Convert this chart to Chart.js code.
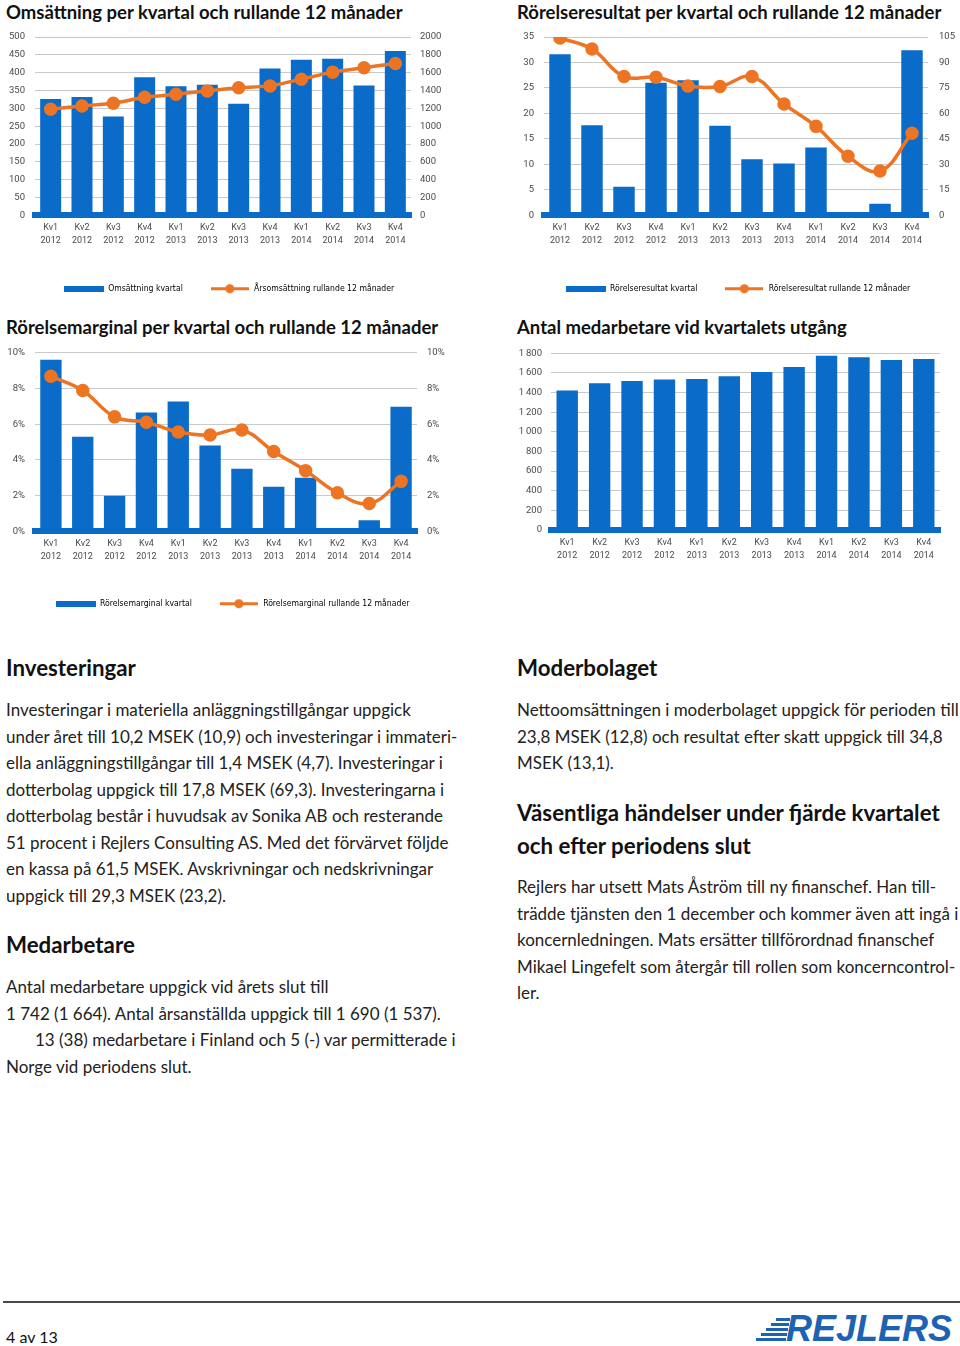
<!DOCTYPE html>
<html lang="sv">
<head>
<meta charset="utf-8">
<script src="https://cdn.jsdelivr.net/npm/chart.js@4.4.1/dist/chart.umd.min.js"></script>
<style>
  body { margin: 0; width: 960px; height: 1346px; position: relative; background: #fff; color: #1c1c1c; font-family: Lato, "Open Sans", sans-serif; overflow: hidden; }
  canvas { position: absolute; }
  .ct { position: absolute; font-weight: 700; font-size: 18px; line-height: 22px; white-space: nowrap; color: #111; }
  .hd { position: absolute; font-weight: 700; font-size: 20px; line-height: 33px; white-space: nowrap; color: #111; }
  .tx { position: absolute; font-size: 16px; line-height: 26.5px; color: #222; }
  .tx div, .hd div { white-space: nowrap; width: max-content; }
  .foot { position: absolute; left: 3px; top: 1301px; width: 957px; height: 2px; background: #4a4a4a; }
  .page { position: absolute; left: 6px; top: 1325px; font-size: 16px; line-height: 24px; color: #111; }
  .logo { position: absolute; left: 786px; top: 1309px; font-family: "Liberation Sans", Arial, sans-serif; font-style: italic; font-weight: 700; font-size: 36px; line-height: 40px; color: #1d63b3; }
  .stripe { position: absolute; height: 3px; background: #1d63b3; }
</style>
</head>
<body>

<div class="ct" id="t1" style="left:6px;top:1px">Omsättning per kvartal och rullande 12 månader</div>
<div class="ct" style="left:517px;top:1px">Rörelseresultat per kvartal och rullande 12 månader</div>
<div class="ct" style="left:6px;top:316px">Rörelsemarginal per kvartal och rullande 12 månader</div>
<div class="ct" style="left:517px;top:316px">Antal medarbetare vid kvartalets utgång</div>

<canvas id="c1" width="458" height="277" style="left:0;top:26px"></canvas>
<canvas id="c2" width="444" height="277" style="left:516px;top:26px"></canvas>
<canvas id="c3" width="465" height="278" style="left:0;top:340px"></canvas>
<canvas id="c4" width="470" height="230" style="left:480px;top:340px"></canvas>

<div class="hd" style="left:6px;top:651px"><div>Investeringar</div></div>
<div class="tx" style="left:6px;top:697px">
  <div id="b1">Investeringar i materiella anläggningstillgångar uppgick</div>
  <div>under året till 10,2 MSEK (10,9) och investeringar i immateri-</div>
  <div>ella anläggningstillgångar till 1,4 MSEK (4,7). Investeringar i</div>
  <div>dotterbolag uppgick till 17,8 MSEK (69,3). Investeringarna i</div>
  <div>dotterbolag består i huvudsak av Sonika AB och resterande</div>
  <div>51 procent i Rejlers Consulting AS. Med det förvärvet följde</div>
  <div>en kassa på 61,5 MSEK. Avskrivningar och nedskrivningar</div>
  <div>uppgick till 29,3 MSEK (23,2).</div>
</div>

<div class="hd" style="left:6px;top:928px"><div>Medarbetare</div></div>
<div class="tx" style="left:6px;top:974px">
  <div>Antal medarbetare uppgick vid årets slut till</div>
  <div>1 742 (1 664). Antal årsanställda uppgick till 1 690 (1 537).</div>
  <div style="padding-left:29px">13 (38) medarbetare i Finland och 5 (-) var permitterade i</div>
  <div>Norge vid periodens slut.</div>
</div>

<div class="hd" style="left:517px;top:651px"><div>Moderbolaget</div></div>
<div class="tx" style="left:517px;top:697px">
  <div>Nettoomsättningen i moderbolaget uppgick för perioden till</div>
  <div>23,8 MSEK (12,8) och resultat efter skatt uppgick till 34,8</div>
  <div>MSEK (13,1).</div>
</div>

<div class="hd" style="left:517px;top:796px">
  <div id="h1">Väsentliga händelser under fjärde kvartalet</div>
  <div>och efter periodens slut</div>
</div>
<div class="tx" style="left:517px;top:874px">
  <div>Rejlers har utsett Mats Åström till ny finanschef. Han till-</div>
  <div>trädde tjänsten den 1 december och kommer även att ingå i</div>
  <div>koncernledningen. Mats ersätter tillförordnad finanschef</div>
  <div>Mikael Lingefelt som återgår till rollen som koncerncontrol-</div>
  <div>ler.</div>
</div>

<div class="foot"></div>
<div class="page">4 av 13</div>
<div class="stripe" style="left:776px;top:1318px;width:14px"></div>
<div class="stripe" style="left:771px;top:1323px;width:18px"></div>
<div class="stripe" style="left:766px;top:1328px;width:22px"></div>
<div class="stripe" style="left:761px;top:1333px;width:26px"></div>
<div class="stripe" style="left:756px;top:1338px;width:30px"></div>
<div class="logo">REJLERS</div>

<script>
// Kategorier och värden avlästa ur diagrammen
const quarters = [
  ['Kv1', '2012'], ['Kv2', '2012'], ['Kv3', '2012'], ['Kv4', '2012'],
  ['Kv1', '2013'], ['Kv2', '2013'], ['Kv3', '2013'], ['Kv4', '2013'],
  ['Kv1', '2014'], ['Kv2', '2014'], ['Kv3', '2014'], ['Kv4', '2014']
];
const omsattningKvartal = [326, 332, 277, 387, 362, 366, 313, 412, 436, 439, 364, 461];
const omsattningRullande = [1190, 1227, 1257, 1325, 1358, 1396, 1430, 1452, 1527, 1606, 1655, 1704];
const resultatKvartal = [31.6, 17.7, 5.6, 26.0, 26.5, 17.6, 11.0, 10.2, 13.3, 0, 2.3, 32.4];
const resultatRullande = [104.4, 97.9, 81.7, 81.3, 76.1, 75.9, 81.7, 65.6, 52.4, 34.8, 26.1, 48.4];
const marginalKvartal = [9.6, 5.3, 2.0, 6.65, 7.27, 4.8, 3.5, 2.5, 3.0, 0, 0.62, 6.97];
const marginalRullande = [8.68, 7.89, 6.41, 6.11, 5.56, 5.39, 5.68, 4.47, 3.4, 2.16, 1.56, 2.8];
const medarbetare = [1420, 1495, 1519, 1532, 1539, 1566, 1610, 1661, 1776, 1759, 1732, 1742];

const blue = '#0a6bc9';
const orange = '#ec7423';

// Fit text sizes to the widths measured in the picture
function fitFont(id, target, selector) {
  const el = document.getElementById(id);
  const size = parseFloat(getComputedStyle(el).fontSize) * target / el.getBoundingClientRect().width;
  document.querySelectorAll(selector).forEach(e => e.style.fontSize = size + 'px');
}
fitFont('t1', 397, '.ct');
fitFont('h1', 423, '.hd');
fitFont('b1', 405, '.tx');

Chart.defaults.font.family = 'Roboto';
Chart.defaults.font.size = 9.5;
Chart.defaults.color = '#4a4a4a';

// Legend icons
const barIcon = document.createElement('canvas');
barIcon.width = 40; barIcon.height = 6;
barIcon.getContext('2d').fillStyle = blue;
barIcon.getContext('2d').fillRect(0, 0, 40, 6);

const lineIcon = document.createElement('canvas');
lineIcon.width = 38; lineIcon.height = 11;
const lctx = lineIcon.getContext('2d');
lctx.strokeStyle = orange; lctx.lineWidth = 3;
lctx.beginPath(); lctx.moveTo(0, 5.5); lctx.lineTo(38, 5.5); lctx.stroke();
lctx.fillStyle = orange;
lctx.beginPath(); lctx.arc(19, 5.5, 4.5, 0, Math.PI * 2); lctx.fill();

function xAxis(height) {
  return {
    grid: { display: false, drawTicks: false },
    border: { color: blue, width: 6 },
    ticks: { padding: 6, autoSkip: false, maxRotation: 0, font: { size: 9, lineHeight: 1.45 } },
    afterFit: s => { s.height = height; }
  };
}

function yAxis(position, min, max, step, width, pad, fmt) {
  return {
    position: position,
    min: min,
    max: max,
    grid: { display: position === 'left', color: '#cacaca', drawTicks: false },
    border: { display: false },
    ticks: { stepSize: step, padding: pad, callback: fmt || (v => v) },
    afterFit: s => { s.width = width; s.paddingTop = 5; s.paddingBottom = 5; }
  };
}

function legendOpts() {
  return {
    display: true,
    position: 'bottom',
    labels: {
      usePointStyle: true,
      pointStyleWidth: 40,
      padding: 27,
      color: '#3a3a3a',
      font: { family: '"Liberation Sans Narrow", "DejaVu Sans Condensed", sans-serif', size: 8.6 },
      generateLabels: chart => chart.data.datasets.map((ds, i) => ({
        text: ds.label,
        pointStyle: i === 0 ? barIcon : lineIcon,
        datasetIndex: i,
        hidden: false,
        lineWidth: 0
      }))
    }
  };
}

function comboChart(id, o) {
  new Chart(document.getElementById(id), {
    type: 'bar',
    data: {
      labels: quarters,
      datasets: [
        { label: o.barLabel, data: o.bars, backgroundColor: blue, barPercentage: 0.67, categoryPercentage: 1, yAxisID: 'y', order: 2 },
        { type: 'line', label: o.lineLabel, data: o.line, yAxisID: 'y1', borderColor: orange, backgroundColor: orange,
          borderWidth: 3.5, pointRadius: 5, pointHoverRadius: 5, tension: o.tension, order: 1 }
      ]
    },
    options: {
      responsive: false,
      animation: false,
      layout: { padding: { top: o.top } },
      plugins: { legend: legendOpts(), tooltip: { enabled: false } },
      scales: {
        x: xAxis(o.xHeight),
        y: yAxis('left', 0, o.leftMax, o.leftStep, o.leftWidth, 10, o.fmt),
        y1: yAxis('right', 0, o.rightMax, o.rightStep, o.rightWidth, o.rightPad, o.fmt)
      }
    }
  });
}

// Omsättning
comboChart('c1', {
  barLabel: 'Omsättning kvartal', lineLabel: 'Årsomsättning rullande 12 månader',
  bars: omsattningKvartal, line: omsattningRullande, tension: 0.2,
  leftMax: 500, leftStep: 50, rightMax: 2000, rightStep: 200,
  leftWidth: 35, rightWidth: 47, rightPad: 9, top: 11, xHeight: 42
});

// Rörelseresultat
comboChart('c2', {
  barLabel: 'Rörelseresultat kvartal', lineLabel: 'Rörelseresultat rullande 12 månader',
  bars: resultatKvartal, line: resultatRullande, tension: 0.4,
  leftMax: 35, leftStep: 5, rightMax: 105, rightStep: 15,
  leftWidth: 28, rightWidth: 32, rightPad: 11, top: 11, xHeight: 42
});

// Rörelsemarginal
comboChart('c3', {
  barLabel: 'Rörelsemarginal kvartal', lineLabel: 'Rörelsemarginal rullande 12 månader',
  bars: marginalKvartal, line: marginalRullande, tension: 0.4,
  leftMax: 10, leftStep: 2, rightMax: 10, rightStep: 2,
  leftWidth: 35, rightWidth: 48, rightPad: 10, top: 12.7, xHeight: 41,
  fmt: v => v + '%'
});

// Antal medarbetare
new Chart(document.getElementById('c4'), {
  type: 'bar',
  data: {
    labels: quarters,
    datasets: [{ label: 'Antal medarbetare', data: medarbetare, backgroundColor: blue, barPercentage: 0.66, categoryPercentage: 1 }]
  },
  options: {
    responsive: false,
    animation: false,
    layout: { padding: { top: 13.3, right: 10 } },
    plugins: { legend: { display: false }, tooltip: { enabled: false } },
    scales: {
      x: xAxis(40),
      y: yAxis('left', 0, 1800, 200, 71, 9, v => v >= 1000 ? Math.floor(v / 1000) + '\u2009' + String(v % 1000).padStart(3, '0') : v)
    }
  }
});
</script>
</body>
</html>
